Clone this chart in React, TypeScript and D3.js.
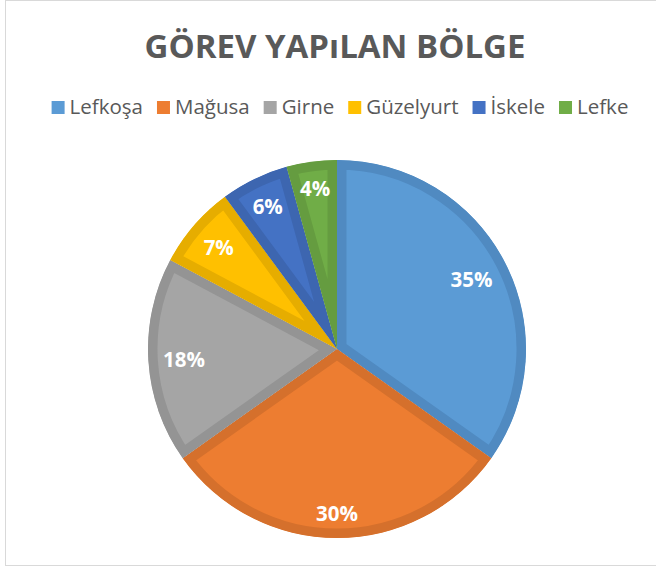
import React, { useEffect, useRef } from "react";
import * as d3 from "d3";

const categories = ["Lefkoşa", "Mağusa", "Girne", "Güzelyurt", "İskele", "Lefke"];
const values = [34.8, 30.4, 17.6, 7.1, 5.8, 4.3];
const fillColors = ["#5B9BD5", "#ED7D31", "#A5A5A5", "#FFC000", "#4472C4", "#70AD47"];
const borderColors = ["#508AC1", "#D5702C", "#949494", "#E6AD00", "#3D66B0", "#659C40"];
const title = "GÖREV YAPıLAN BÖLGE";

const W = 656;
const H = 567;
const FONT = "'Open Sans', 'Noto Sans', sans-serif";

export default function App() {
  const ref = useRef<SVGSVGElement>(null);

  useEffect(() => {
    const svg = d3.select(ref.current);
    svg.selectAll("*").remove();

    svg.append("rect")
      .attr("x", 5.5).attr("y", 0.5).attr("width", 700).attr("height", 565)
      .attr("fill", "#fff").attr("stroke", "#d9d9d9").attr("stroke-width", 1);

    svg.append("text")
      .attr("x", 335).attr("y", 58)
      .attr("text-anchor", "middle")
      .attr("font-family", FONT).attr("font-weight", 700).attr("font-size", 33)
      .attr("fill", "#595959")
      .text(title);

    // legend
    const lg = svg.append("g");
    const items = categories.map((c, i) => {
      const g = lg.append("g");
      g.append("rect").attr("width", 13).attr("height", 13).attr("y", -13).attr("fill", fillColors[i]);
      const t = g.append("text").attr("x", 18).attr("font-family", FONT).attr("font-size", 20.5)
        .attr("fill", "#595959").text(c);
      const w = 18 + (t.node() as SVGTextElement).getComputedTextLength();
      return { g, w };
    });
    const gap = 14;
    const total = d3.sum(items, (d) => d.w) + gap * (items.length - 1);
    let x = 340 - total / 2;
    items.forEach((it) => {
      it.g.attr("transform", `translate(${x},114)`);
      x += it.w + gap;
    });

    // pie
    const cx = 337, cy = 349, R = 189;
    const pie = d3.pie<number>().sort(null).value((d) => d);
    const arcs = pie(values);
    const arc = d3.arc<d3.PieArcDatum<number>>().innerRadius(0).outerRadius(R);
    const pg = svg.append("g").attr("transform", `translate(${cx},${cy})`);
    const defs = svg.append("defs");
    arcs.forEach((a, i) => {
      const id = `clip-${i}`;
      defs.append("clipPath").attr("id", id).append("path").attr("d", arc(a) as string);
      pg.append("path")
        .attr("d", arc(a) as string)
        .attr("fill", fillColors[i])
        .attr("stroke", borderColors[i])
        .attr("stroke-width", 19)
        .attr("stroke-linejoin", "miter")
        .attr("clip-path", `url(#${id})`);
    });

    const sumV = d3.sum(values);
    arcs.forEach((a) => {
      const t = pg.append("text")
        .attr("font-family", FONT).attr("font-weight", 700).attr("font-size", 20.5)
        .attr("fill", "#fff").attr("text-anchor", "middle")
        .attr("dominant-baseline", "central")
        .text(`${Math.round((a.value / sumV) * 100)}%`);
      const w = (t.node() as SVGTextElement).getComputedTextLength();
      const h = 22;
      const mid = (a.startAngle + a.endAngle) / 2;
      const dx = Math.sin(mid), dy = -Math.cos(mid);
      const ext = (w / 2) * Math.abs(dx) + (h / 2) * Math.abs(dy);
      const r = R - 14 - ext;
      t.attr("x", r * dx).attr("y", r * dy);
    });
  }, []);

  return (
    <svg
      ref={ref}
      width={W}
      height={H}
      style={{ position: "absolute", left: 0, top: 0, background: "#fff" }}
    />
  );
}
